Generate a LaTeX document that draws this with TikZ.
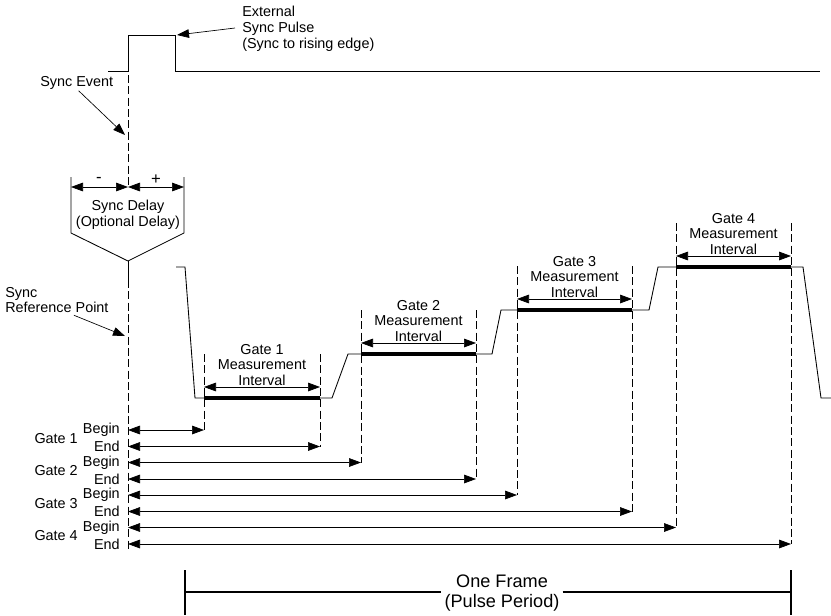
\documentclass[tikz,border=0pt]{standalone}
\usepackage{fontspec}
\setmainfont{Liberation Sans}
\usetikzlibrary{arrows.meta,calc}

\begin{document}
\begin{tikzpicture}[x=0.75pt,y=-0.75pt,
    font=\fontsize{10.8}{11.8}\selectfont,
    txt/.style={inner sep=0pt, align=center},
    wave/.style={line width=0.65pt},
    bar/.style={line width=2.3pt},
    guide/.style={line width=0.55pt, dash pattern=on 6pt off 2.5pt},
    span/.style={line width=0.5pt, {Triangle[length=9pt,width=6.5pt]}-{Triangle[length=9pt,width=6.5pt]}},
    pointer/.style={line width=0.5pt, -{Triangle[length=9pt,width=6.5pt]}}]
    \useasboundingbox (0,0) rectangle (831,615);

    % external sync pulse
    \draw[wave] (108,71) -- (128,71) -- (128,35) -- (175,35) -- (175,71) -- (820,71);
    \coordinate (pulsetop) at (177,35);
    \node[txt, align=left, anchor=west] (extpulse) at (242,29) {External\\Sync Pulse\\(Sync to rising edge)};
    \draw[pointer] ($(extpulse.west)+(-7,-1)$) -- (pulsetop);

    % sync event
    \node[txt, anchor=west] (syncevent) at (40,83) {Sync Event};
    \coordinate (eventpt) at (125,135);
    \draw[pointer] ($(syncevent.south)+(2,1)$) -- (eventpt);
    \draw[guide] (128,75) -- (128,187);

    % sync delay
    \coordinate (delaymin) at (71,187);
    \coordinate (delayzero) at (128,187);
    \coordinate (delayplus) at (184,187);
    \draw[span] (delaymin) -- (delayzero);
    \draw[span] (delayzero) -- (delayplus);
    \node[txt, font=\fontsize{12.5}{13}\selectfont] (minus) at (99,180) {-};
    \node[txt, font=\fontsize{12.5}{13}\selectfont] (plus) at (156,180) {+};
    \coordinate (refpt) at (128,261);
    \draw[wave] (71,177) -- (71,233) -- (refpt) -- (184,233) -- (184,177);
    \node[txt] (delay) at (128,215) {Sync Delay\\(Optional Delay)};
    \draw[wave] (refpt) -- (128,280);
    \draw[guide] (128,280) -- (128,551);

    % sync reference point
    \node[txt, align=left, anchor=west] (syncref) at (5,300) {Sync\\Reference Point};
    \coordinate (refmark) at (125,336);
    \draw[pointer] ($(syncref.south)+(17,2)$) -- (refmark);

    % output waveform
    \draw[wave] (176,267) -- (185,267) -- (195,398) -- (332,398) -- (348,354) -- (492,354)
        -- (501,310) -- (649,310) -- (658,267) -- (803,267) -- (821,398) -- (831,398);

    % gates
    \foreach \g/\xb/\xe/\lev in {1/204/320/398, 2/361/476/354, 3/517/632/310, 4/676/791/267} {
        \pgfmathsetmacro{\rb}{430+32.5*(\g-1)}
        \pgfmathsetmacro{\re}{446.5+32.5*(\g-1)}
        \coordinate (gb\g) at (\xb,\lev);
        \coordinate (ge\g) at (\xe,\lev);
        \draw[bar] (gb\g) -- (ge\g);
        \draw[guide] (\xb,\lev-44) -- (\xb,\rb);
        \draw[guide] (\xe,\lev-44) -- (\xe,\re);
        \draw[span] (\xb,\lev-11) -- (\xe,\lev-11);
        \node[txt] (meas\g) at ({(\xb+\xe)/2},\lev-33) {Gate \g\\Measurement\\Interval};
        \coordinate (zb\g) at (128,\rb);
        \coordinate (ze\g) at (128,\re);
        \draw[span] (zb\g) -- (\xb,\rb);
        \draw[span] (ze\g) -- (\xe,\re);
        \node[txt, anchor=east] (begin\g) at (120,\rb) {Begin};
        \node[txt, anchor=east] (end\g) at (120,\re) {End};
        \node[txt, anchor=east] (gate\g) at (78,{(\rb+\re)/2}) {Gate \g};
    }

    % one frame
    \node[txt, font=\fontsize{13.6}{15}\selectfont] (frame) at (502,593) {One Frame\\(Pulse Period)};
    \coordinate (framel) at (185,592);
    \coordinate (framer) at (791,592);
    \draw[line width=1.2pt] (185,570) -- (185,615);
    \draw[line width=1.2pt] (791,570) -- (791,615);
    \draw[line width=1.2pt] (framel) -- ($(frame.west)+(-3,-1)$);
    \draw[line width=1.2pt] ($(frame.east)+(3,-1)$) -- (framer);
\end{tikzpicture}
\end{document}
